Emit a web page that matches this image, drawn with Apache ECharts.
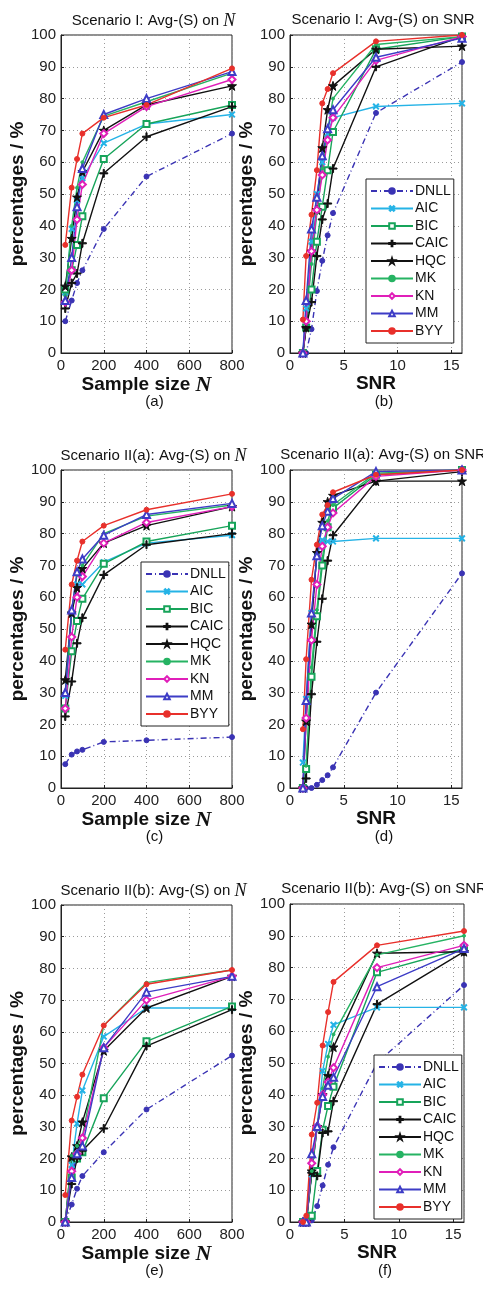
<!DOCTYPE html>
<html>
<head>
<meta charset="utf-8">
<script src="https://cdn.jsdelivr.net/npm/echarts@6/dist/echarts.min.js"></script>
<style>
html, body { margin: 0; padding: 0; background: #fff; }
#chart { width: 483px; height: 1293px; }
</style>
</head>
<body>
<div id="chart"></div>
<script>
// methods, in legend order
var methodNames = ['DNLL', 'AIC', 'BIC', 'CAIC', 'HQC', 'MK', 'KN', 'MM', 'BYY'];
var sampleSizes = [20, 50, 75, 100, 200, 400, 800];
var snrLevels = [1.2, 1.5, 2, 2.5, 3, 3.5, 4, 8, 16];
var percentTicks = [0, 10, 20, 30, 40, 50, 60, 70, 80, 90, 100];

// (a) Scenario I, on N  (rows follow methodNames)
var panelA = [
  [10, 16.5, 22, 26, 39, 55.5, 69],
  [19, 39, 48, 55, 66, 72, 75],
  [20, 26, 34, 43, 61, 72, 78],
  [14, 22, 25, 34.5, 56.5, 68, 77.5],
  [21, 36, 49, 57, 70, 78, 84],
  [18, 40, 52, 60, 74.5, 79, 88],
  [16, 26, 42, 53, 69, 77.5, 86],
  [16.5, 30, 46, 58, 75, 80, 88.5],
  [34, 52, 61, 69, 74, 78, 89.5]
];
// (b) Scenario I, on SNR
var panelB = [
  [0, 0, 7.5, 19.5, 29, 37, 44, 75.5, 91.5],
  [0, 14, 35, 50, 60, 69, 74, 77.5, 78.5],
  [0, 8, 20, 35, 46, 57.5, 69.5, 95.5, 99.5],
  [0, 8, 16, 30.5, 42, 47, 58, 90, 99.5],
  [0, 8, 32, 45, 64.5, 76.5, 84, 95.5, 96.5],
  [0, 10, 28, 44, 58, 70, 80, 97, 99.5],
  [0, 10, 32, 45, 56, 67, 74, 92, 99.5],
  [0, 16.5, 39, 49, 62, 70.5, 76.5, 93, 99],
  [10.5, 30.5, 43.5, 57.5, 78.5, 83, 88, 98, 100]
];
// (c) Scenario II(a), on N
var panelC = [
  [7.5, 10.5, 11.5, 12, 14.5, 15, 16],
  [29, 55, 64, 64, 71, 77, 79.5],
  [25, 43, 52.5, 59.5, 70.5, 77.5, 82.5],
  [22.5, 33.5, 45.5, 53.5, 67, 76.5, 80],
  [34, 55, 63, 69, 77, 82.5, 88.5],
  [30, 56, 67, 70, 80, 85.5, 89],
  [25, 47.5, 60, 66.5, 77, 83.5, 88.5],
  [30, 56, 68, 72, 79.5, 86, 89.5],
  [43.5, 64, 71.5, 77.5, 82.5, 87.5, 92.5]
];
// (d) Scenario II(a), on SNR
var panelD = [
  [0, 0, 0, 1, 2.5, 4, 6.5, 30, 67.5],
  [8, 28, 55, 73, 78, 77.5, 77.5, 78.5, 78.5],
  [0, 6, 35, 54, 70, 82, 88, 98.5, 100],
  [0, 3, 29.5, 46, 59.5, 71.5, 79.5, 96.5, 99.5],
  [0, 21, 51.5, 74, 83.5, 90, 92, 96.5, 96.5],
  [0, 7, 38, 56, 72, 84, 89, 99, 100],
  [0, 22, 46.5, 64, 76, 82, 86.5, 98, 100],
  [0, 27.5, 55, 73, 82.5, 87, 91, 99.5, 100],
  [18.5, 40.5, 65.5, 76.5, 86, 89, 93, 98.5, 100]
];
// (e) Scenario II(b), on N
var panelE = [
  [0, 5.5, 10.5, 14.5, 22, 35.5, 52.5],
  [0, 18, 31, 41.5, 58.5, 67.5, 67.5],
  [0, 14, 20, 22, 39, 57, 68],
  [0, 12, 20, 22.5, 29.5, 55.5, 67],
  [0, 20.5, 24, 31.5, 54, 67.5, 77.5],
  [0, 21, 24, 27, 62, 75.5, 79.5],
  [0, 16, 21.5, 26.5, 55, 70, 77.5],
  [0, 14, 21.5, 24, 55, 72.5, 77.5],
  [8.5, 32, 39.5, 46.5, 62, 75, 79.5]
];
// (f) Scenario II(b), on SNR
var panelF = [
  [0, 0, 0.5, 5, 11.5, 18, 23.5, 50, 74.5],
  [0, 0, 15, 30, 47.5, 56, 62, 67.5, 67.5],
  [0, 0, 2, 16, 29, 36.5, 42.5, 78.5, 86],
  [0, 0, 15.5, 14.5, 28, 28.5, 38, 68.5, 85],
  [0, 0, 16, 30, 40, 46, 55, 84.5, 85],
  [0, 0, 16, 30, 42, 52, 59, 84, 90],
  [0, 0, 18.5, 30, 40, 44, 48.5, 80, 87],
  [0, 0, 21.5, 30, 39.5, 43, 45.5, 74, 86],
  [0, 2, 27.5, 37.5, 55.5, 66, 75.5, 87, 91.5]
];

var FONT = 'Liberation Sans';
var PLUS = 'path://M4.3,0H5.7V4.3H10V5.7H5.7V10H4.3V5.7H0V4.3H4.3Z';
var STAR = 'path://M5,0L6.2,3.6L10,3.6L6.9,5.9L8.1,9.5L5,7.3L1.9,9.5L3.1,5.9L0,3.6L3.8,3.6Z';

// look of each method (same order as methodNames)
var methodStyles = [
  { color: '#3a33b4', symbol: 'circle', size: 5, dash: [6, 3, 1, 3] },
  { color: '#25b3e6', symbol: PLUS, size: 7, rotate: 45 },
  { color: '#17a45a', symbol: 'emptyRect', size: 6 },
  { color: '#111111', symbol: PLUS, size: 8 },
  { color: '#111111', symbol: STAR, size: 9 },
  { color: '#26b363', symbol: 'circle', size: 3 },
  { color: '#e01fb9', symbol: 'emptyDiamond', size: 7 },
  { color: '#3d3cc6', symbol: 'emptyTriangle', size: 7 },
  { color: '#e8302b', symbol: 'circle', size: 5 }
];

// panel layout: plot box, x data, titles
var panels = [
  { data: panelA, xs: sampleSizes, onN: true, left: 61, top: 35, width: 171, height: 318, title: 'Scenario I: Avg-(S) on ', tag: '(a)' },
  { data: panelB, xs: snrLevels, onN: false, left: 290, top: 35, width: 172, height: 318, title: 'Scenario I: Avg-(S) on SNR', tag: '(b)',
    legend: { left: 366, top: 179 } },
  { data: panelC, xs: sampleSizes, onN: true, left: 61, top: 470, width: 171, height: 318, title: 'Scenario II(a): Avg-(S) on ', tag: '(c)',
    legend: { left: 141, top: 562 } },
  { data: panelD, xs: snrLevels, onN: false, left: 290, top: 470, width: 172, height: 318, title: 'Scenario II(a): Avg-(S) on SNR', tag: '(d)' },
  { data: panelE, xs: sampleSizes, onN: true, left: 61, top: 905, width: 171, height: 317, title: 'Scenario II(b): Avg-(S) on ', tag: '(e)' },
  { data: panelF, xs: snrLevels, onN: false, left: 290, top: 904, width: 174, height: 318, title: 'Scenario II(b): Avg-(S) on SNR', tag: '(f)',
    legend: { left: 374, top: 1055 } }
];

var italicN = { fontFamily: 'Liberation Serif', fontStyle: 'italic', fontSize: 18, color: '#111' };

var grids = [], xAxes = [], yAxes = [], titles = [], legends = [], series = [];

panels.forEach(function (p, i) {
  grids.push({
    left: p.left, top: p.top, width: p.width, height: p.height,
    show: true, borderColor: '#222', borderWidth: 1, backgroundColor: 'transparent'
  });

  xAxes.push({
    gridIndex: i,
    type: 'value',
    min: 0,
    max: p.onN ? 800 : 16,
    interval: p.onN ? 200 : 5,
    name: p.onN ? 'Sample size {n|N}' : 'SNR',
    nameLocation: 'middle',
    nameGap: 17,
    nameTextStyle: { fontFamily: FONT, fontSize: 19, fontWeight: 'bold', color: '#111', rich: { n: { fontFamily: 'Liberation Serif', fontStyle: 'italic', fontSize: 22, color: '#111' } } },
    axisLine: { show: true, lineStyle: { color: '#222', width: 1 } },
    axisTick: { show: true, inside: true, length: 3, lineStyle: { color: '#222' } },
    axisLabel: { fontFamily: FONT, fontSize: 15, color: '#222', margin: 5, showMaxLabel: p.onN },
    splitLine: { show: true, lineStyle: { color: '#9a9a9a', type: [1, 3], width: 1 } }
  });

  yAxes.push({
    gridIndex: i,
    type: 'value',
    min: percentTicks[0],
    max: percentTicks[percentTicks.length - 1],
    interval: 10,
    name: 'percentages / %',
    nameLocation: 'middle',
    nameGap: 23,
    nameTextStyle: { fontFamily: FONT, fontSize: 19, fontWeight: 'bold', color: '#111' },
    axisLine: { show: true, lineStyle: { color: '#222', width: 1 } },
    axisTick: { show: true, inside: true, length: 3, lineStyle: { color: '#222' } },
    axisLabel: { fontFamily: FONT, fontSize: 15, color: '#222', margin: 5 },
    splitLine: { show: true, lineStyle: { color: '#9a9a9a', type: [1, 3], width: 1 } }
  });

  var cx = p.left + p.width / 2;
  titles.push({
    text: p.onN ? p.title + '{n|N}' : p.title,
    left: cx + 2, top: p.top - 28, textAlign: 'center',
    textStyle: { fontFamily: FONT, fontSize: 15, fontWeight: 'normal', color: '#111', rich: { n: italicN } }
  });
  titles.push({
    text: p.tag,
    left: cx + 3, top: p.top + p.height + 36, textAlign: 'center',
    textStyle: { fontFamily: FONT, fontSize: 15, fontWeight: 'normal', color: '#111' }
  });

  if (p.legend) {
    legends.push({
      left: p.legend.left, top: p.legend.top,
      orient: 'vertical',
      data: methodNames,
      selectedMode: false,
      backgroundColor: '#fff',
      borderColor: '#222',
      borderWidth: 1,
      borderRadius: 0,
      padding: [5, 3, 5, 4],
      itemWidth: 42,
      itemHeight: 7,
      itemGap: 3.5,
      textStyle: { fontFamily: FONT, fontSize: 14, color: '#111', padding: [0, 0, 0, -3] }
    });
  }

  p.data.forEach(function (vals, m) {
    var st = methodStyles[m];
    series.push({
      name: methodNames[m],
      type: 'line',
      xAxisIndex: i,
      yAxisIndex: i,
      data: p.xs.map(function (x, k) { return [x, vals[k]]; }),
      symbol: st.symbol,
      symbolSize: st.size,
      symbolRotate: st.rotate || 0,
      showAllSymbol: true,
      animation: false,
      lineStyle: { color: st.color, width: 1.4, type: st.dash || 'solid' },
      itemStyle: { color: st.color, borderColor: st.color, borderWidth: 1 }
    });
  });
});

var myChart = echarts.init(document.getElementById('chart'), null, { renderer: 'canvas' });
myChart.setOption({
  backgroundColor: '#fff',
  animation: false,
  title: titles,
  legend: legends,
  grid: grids,
  xAxis: xAxes,
  yAxis: yAxes,
  series: series
});
</script>
</body>
</html>
